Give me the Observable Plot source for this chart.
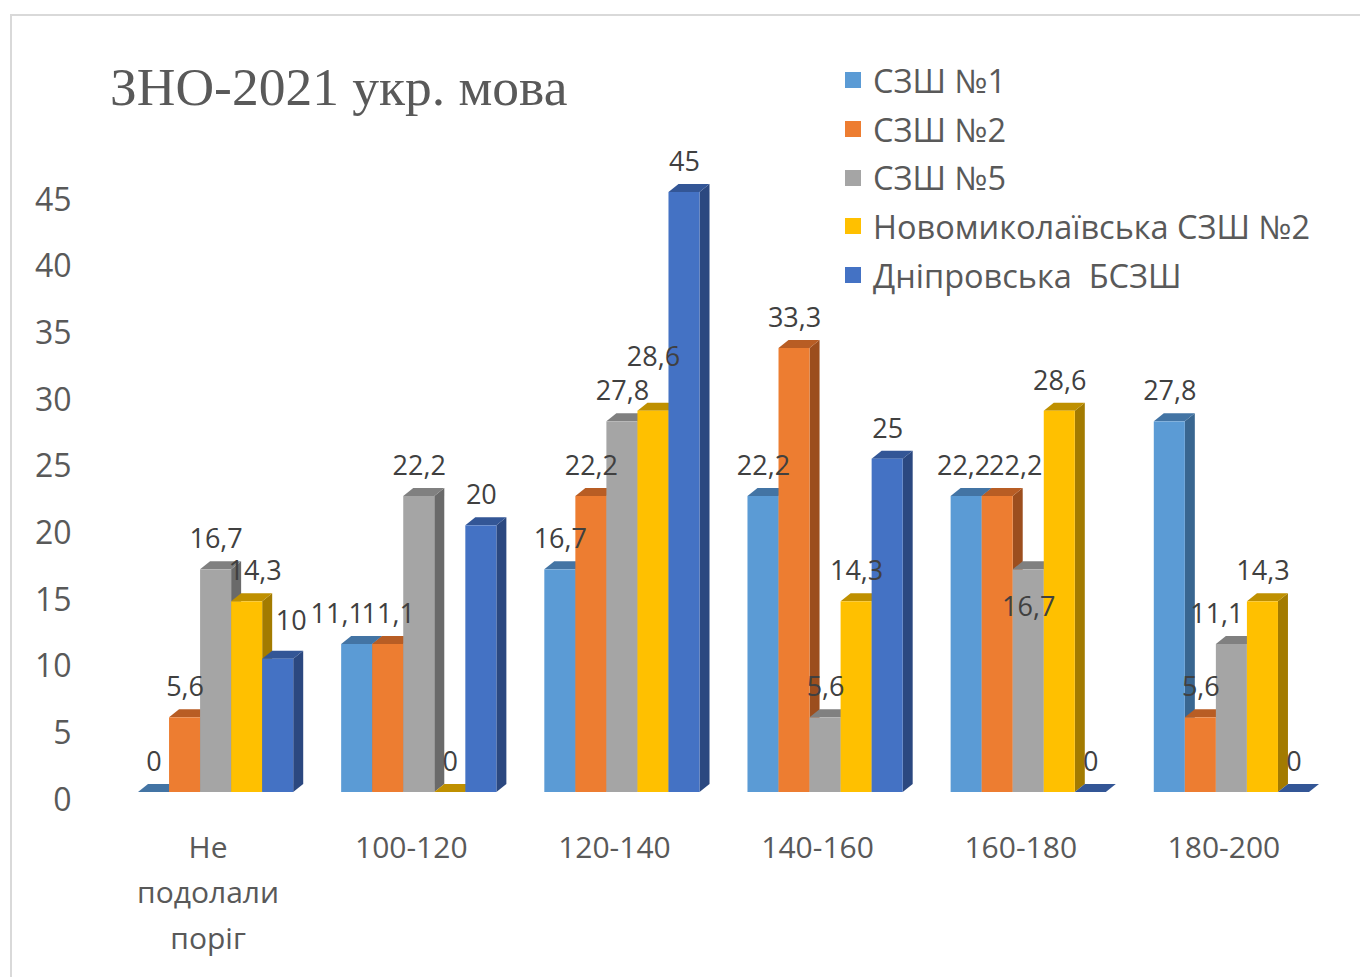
<!DOCTYPE html>
<html>
<head>
<meta charset="utf-8">
<script src="https://cdn.jsdelivr.net/npm/d3@7"></script>
<script src="https://cdn.jsdelivr.net/npm/@observablehq/plot@0.6"></script>
<style>
  html, body { margin: 0; padding: 0; background: #ffffff; overflow: hidden; }
  #wrap { position: relative; width: 1360px; height: 977px; overflow: hidden; }
  #frame { position: absolute; left: 10px; top: 14px; width: 1400px; height: 1000px;
           border-top: 2px solid #d9d9d9; border-left: 2px solid #d9d9d9; box-sizing: border-box; }
  #chart { position: absolute; left: 0; top: 0; }
  #title { position: absolute; left: 110px; top: 61px; font-family: "Liberation Serif", "Times New Roman", serif;
           font-size: 53.5px; line-height: 1; color: #595959; white-space: nowrap; }
  #legend { position: absolute; left: 845px; top: 56px; font-family: "Open Sans", sans-serif;
            font-size: 32.5px; color: #595959; }
  .item { height: 48.7px; display: flex; align-items: center; white-space: pre; }
  .sw { width: 16px; height: 16px; margin-right: 12px; flex: none; }
</style>
</head>
<body>
<div id="wrap">
  <div id="frame"></div>
  <div id="chart"></div>
  <div id="title"></div>
  <div id="legend"></div>
</div>
<script>
// ---------------- data ----------------
const titleText = "ЗНО-2021 укр. мова";
const categories = ["Не подолали поріг", "100-120", "120-140", "140-160", "160-180", "180-200"];
const categoryLabels = ["Не\nподолали\nпоріг", "100-120", "120-140", "140-160", "160-180", "180-200"];
const series = ["СЗШ №1", "СЗШ №2", "СЗШ №5", "Новомиколаївська СЗШ №2", "Дніпровська  БСЗШ"];
const szsh1   = [0, 11.1, 16.7, 22.2, 22.2, 27.8];
const szsh2   = [5.6, 11.1, 22.2, 33.3, 22.2, 5.6];
const szsh5   = [16.7, 22.2, 27.8, 5.6, 16.7, 11.1];
const novomyk = [14.3, 0, 28.6, 14.3, 28.6, 14.3];
const dnipro  = [10, 20, 45, 25, 0, 0];
const yTicks  = [0, 5, 10, 15, 20, 25, 30, 35, 40, 45];

// ---------------- style ----------------
const frontColors = ["#5B9BD5", "#ED7D31", "#A5A5A5", "#FFC000", "#4472C4"];
const topColors   = ["#4374A4", "#B85D24", "#808080", "#BF9000", "#335696"];
const sideColors  = ["#396690", "#9C4E1E", "#6A6A6A", "#A37B00", "#2B4880"];
const depthX = 10, depthY = 8;
// label nudges: [category index, series index, dx, dy]
const labelNudges = [
  [0, 3, 8, 0], [0, 4, 13, -8], [1, 0, -20, 0], [2, 3, 0, -24],
  [4, 0, -3, 0], [4, 1, 18, 0], [4, 2, 0, 68], [5, 2, -15, 0]
];

const seriesValues = [szsh1, szsh2, szsh5, novomyk, dnipro];
const rows = [];
categories.forEach((c, ci) => series.forEach((s, si) => {
  rows.push({cat: c, ci, series: s, si, value: seriesValues[si][ci]});
}));
const fmt = v => String(v).replace(".", ",");

function bars3d(index, scales, values) {
  const bw = scales.x.bandwidth();
  const g = d3.create("svg:g");
  const order = Array.from(index).sort((a, b) => values.x[a] - values.x[b]);
  for (const i of order) {
    const si = rows[i].si;
    const x0 = values.x[i], x1 = x0 + bw;
    const yt = Math.min(values.y1[i], values.y2[i]);
    const yb = Math.max(values.y1[i], values.y2[i]);
    g.append("polygon")
      .attr("points", [[x1, yt], [x1 + depthX, yt - depthY], [x1 + depthX, yb - depthY], [x1, yb]].join(" "))
      .attr("fill", sideColors[si]);
    g.append("polygon")
      .attr("points", [[x0, yt], [x0 + depthX, yt - depthY], [x1 + depthX, yt - depthY], [x1, yt]].join(" "))
      .attr("fill", topColors[si]);
    g.append("rect")
      .attr("x", x0).attr("y", yt).attr("width", bw).attr("height", yb - yt)
      .attr("fill", frontColors[si]);
  }
  return g.node();
}

const isNudged = d => labelNudges.some(n => n[0] === d.ci && n[1] === d.si);

const marks = [
  Plot.barY(rows, {fx: "cat", x: "series", y: "value", render: bars3d}),
  Plot.text(rows.filter(d => !isNudged(d)), {
    fx: "cat", x: "series", y: "value", text: d => fmt(d.value),
    dy: -30, fontSize: 27, fill: "#404040"
  }),
  ...labelNudges.map(([ci, si, dx, dy]) => Plot.text(rows.filter(d => d.ci === ci && d.si === si), {
    fx: "cat", x: "series", y: "value", text: d => fmt(d.value),
    dx, dy: -30 + dy, fontSize: 27, fill: "#404040"
  })),
  Plot.text(categories, {
    fx: d => d, text: (d, i) => categoryLabels[i], frameAnchor: "bottom", lineAnchor: "top",
    dx: -8, dy: 33, fontSize: 30, lineHeight: 1.517, fill: "#595959"
  }),
  Plot.axisY({ticks: yTicks, tickSize: 0, tickPadding: 67, dy: 8, fontSize: 32, color: "#595959", label: null})
];

const chart = Plot.plot({
  width: 1360, height: 977,
  marginLeft: 138, marginRight: 51, marginTop: 192, marginBottom: 185,
  style: {background: "transparent", fontFamily: "'Open Sans', sans-serif"},
  fx: {domain: categories, paddingInner: 0.236, paddingOuter: 0, round: false, axis: null, label: null},
  x: {domain: series, padding: 0, round: false, axis: null},
  y: {domain: [0, 45], axis: null},
  marks
});
document.getElementById("chart").appendChild(chart);

document.getElementById("title").textContent = titleText;
const legend = document.getElementById("legend");
series.forEach((s, i) => {
  const item = document.createElement("div");
  item.className = "item";
  const sw = document.createElement("span");
  sw.className = "sw";
  sw.style.background = frontColors[i];
  const t = document.createElement("span");
  t.textContent = s;
  item.appendChild(sw);
  item.appendChild(t);
  legend.appendChild(item);
});
</script>
</body>
</html>
